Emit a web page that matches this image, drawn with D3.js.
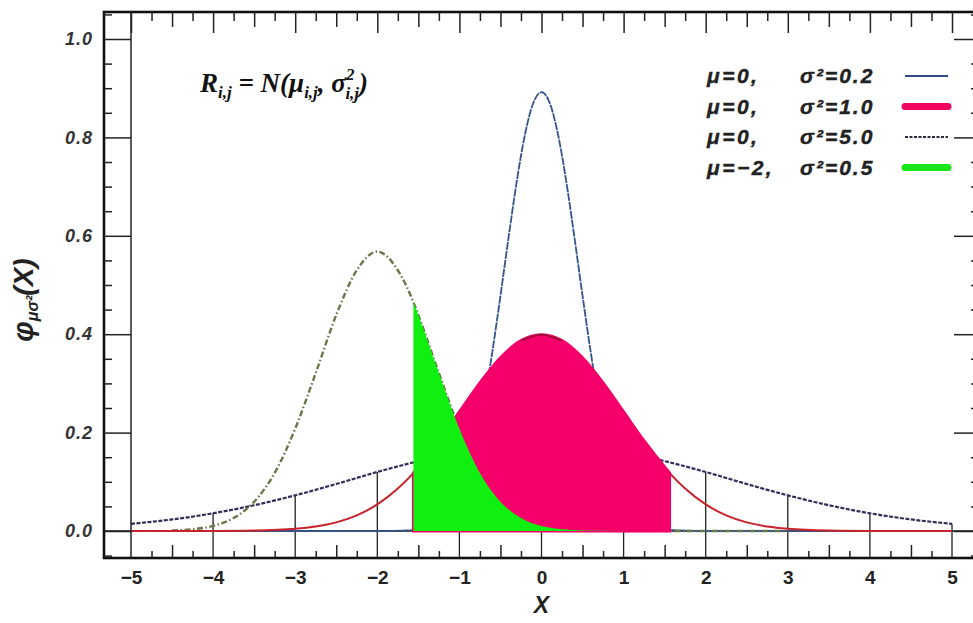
<!DOCTYPE html>
<html><head><meta charset="utf-8">
<script src="https://cdn.jsdelivr.net/npm/d3@7/dist/d3.min.js"></script>
<style>body{margin:0;background:#fff}svg{display:block}</style>
</head><body>
<svg id="c" width="973" height="623"></svg>
<script>
// ---- data ----
const xTickValues = [-5,-4,-3,-2,-1,0,1,2,3,4,5];
const xTickLabels = ["\u22125","\u22124","\u22123","\u22122","\u22121","0","1","2","3","4","5"];
const yTickValues = [0,0.2,0.4,0.6,0.8,1.0];
const yTickLabels = ["0.0","0.2","0.4","0.6","0.8","1.0"];

// mu=0, sigma^2=0.2
const blueX = [-5,-4,-3,-2,-1.6,-1.4,-1.2,-1,-0.9,-0.8,-0.7,-0.6,-0.5,-0.4,-0.3,-0.2,-0.1,0,0.1,0.2,0.3,0.4,0.5,0.6,0.7,0.8,0.9,1,1.2,1.4,1.6,2,3,4,5];
const blueY = [0,0,0,0,0.0015,0.0066,0.024,0.073,0.118,0.180,0.262,0.363,0.478,0.598,0.712,0.807,0.870,0.892,0.870,0.807,0.712,0.598,0.478,0.363,0.262,0.180,0.118,0.073,0.024,0.0066,0.0015,0,0,0,0];
// mu=0, sigma^2=1.0
const redX = [-5,-4.5,-4,-3.5,-3,-2.75,-2.5,-2.25,-2,-1.75,-1.56,-1.5,-1.25,-1,-0.75,-0.5,-0.25,0,0.25,0.5,0.75,1,1.25,1.5,1.56,1.75,2,2.25,2.5,2.75,3,3.5,4,4.5,5];
const redY = [0,0,0.0001,0.0009,0.0044,0.0091,0.0175,0.0317,0.054,0.0863,0.118,0.130,0.183,0.242,0.301,0.352,0.387,0.399,0.387,0.352,0.301,0.242,0.183,0.130,0.118,0.0863,0.054,0.0317,0.0175,0.0091,0.0044,0.0009,0.0001,0,0];
// mu=0, sigma^2=5.0
const purpleX = [-5,-4.5,-4,-3.5,-3,-2.5,-2,-1.5,-1,-0.5,0,0.5,1,1.5,2,2.5,3,3.5,4,4.5,5];
const purpleY = [0.0146,0.0235,0.0360,0.0524,0.0725,0.0955,0.120,0.142,0.161,0.174,0.178,0.174,0.161,0.142,0.120,0.0955,0.0725,0.0524,0.0360,0.0235,0.0146];
// mu=-2, sigma^2=0.5
const greenX = [-4.5,-4.25,-4,-3.75,-3.5,-3.25,-3,-2.75,-2.5,-2.25,-2,-1.75,-1.56,-1.5,-1.25,-1,-0.75,-0.5,-0.25,0,0.5,1,2,3];
const greenY = [0.0011,0.0036,0.0103,0.0264,0.0595,0.118,0.208,0.321,0.439,0.530,0.568,0.530,0.465,0.439,0.321,0.208,0.118,0.0595,0.0264,0.0103,0.0011,0.0001,0,0];

const pinkRange = [-1.56, 1.56];
const greenFillFrom = -1.56;

const legendMu = ["\u03bc=0,","\u03bc=0,","\u03bc=0,","\u03bc=\u22122,"];
const legendSigma = ["\u03c3\u00b2=0.2","\u03c3\u00b2=1.0","\u03c3\u00b2=5.0","\u03c3\u00b2=0.5"];

// ---- drawing ----
const svg = d3.select("#c");
const x = d3.scaleLinear().domain([-5,5]).range([131,952]);
const y = d3.scaleLinear().domain([0,1]).range([531,39]);
const F = {l:104, t:12, r:979, b:558};
const SANS = "'Liberation Sans',Arial,sans-serif";

const pts = (xs, ys) => xs.map((v,i)=>[v, ys[i]]);
const line = d3.line().x(d=>x(d[0])).y(d=>y(d[1])).curve(d3.curveMonotoneX);
const area = d3.area().x(d=>x(d[0])).y0(y(0)).y1(d=>y(d[1])).curve(d3.curveMonotoneX);

const blue = pts(blueX, blueY), red = pts(redX, redY), purple = pts(purpleX, purpleY), green = pts(greenX, greenY);

// baseline y=0
svg.append("line").attr("x1",F.l).attr("x2",F.r).attr("y1",y(0)).attr("y2",y(0))
  .attr("stroke","#111").attr("stroke-width",1.6);

// drop lines at integer x from the sigma^2=5 curve to bottom frame
xTickValues.filter(v=>v>-5).forEach(v=>{
  const i = purpleX.indexOf(v);
  svg.append("line").attr("x1",x(v)).attr("x2",x(v)).attr("y1",y(purpleY[i])).attr("y2",F.b)
    .attr("stroke","#222").attr("stroke-width",1.3);
});

// curves
svg.append("path").attr("d",line(purple)).attr("fill","none").attr("stroke","#362c58")
  .attr("stroke-width",2.2).attr("stroke-dasharray","4,1.5");
svg.append("path").attr("d",line(blue)).attr("fill","none").attr("stroke","#33538c")
  .attr("stroke-width",1.8).attr("stroke-dasharray","8,1");
svg.append("path").attr("d",line(green)).attr("fill","none").attr("stroke","#67784a")
  .attr("stroke-width",2.4).attr("stroke-dasharray","6,2.5,1.5,2.5");
svg.append("path").attr("d",line(red)).attr("fill","none").attr("stroke","#c8222c").attr("stroke-width",2);

// pink fill
const pinkPts = red.filter(d=>d[0]>=pinkRange[0] && d[0]<=pinkRange[1]);
svg.append("path").attr("d",area(pinkPts)).attr("fill","#f5006a").attr("stroke","#f5006a").attr("stroke-width",3);
// dark edge near the pink peak
const peakPts = red.filter(d=>d[0]>=-0.25 && d[0]<=0.25);
svg.append("path").attr("d",line(peakPts)).attr("fill","none").attr("stroke","#8a1030").attr("stroke-width",1.5);

// green fill
const greenPts = green.filter(d=>d[0]>=greenFillFrom && d[0]<=1);
svg.append("path").attr("d",area(greenPts)).attr("fill","#10f010");

// frame
svg.append("rect").attr("x",F.l).attr("y",F.t).attr("width",F.r-F.l).attr("height",F.b-F.t)
  .attr("fill","none").attr("stroke","#111").attr("stroke-width",2.6);
svg.append("line").attr("x1",x(-5)).attr("x2",x(-5)).attr("y1",F.t).attr("y2",F.b)
  .attr("stroke","#222").attr("stroke-width",1.5);

const minorX = d3.range(-5,5.001,0.25).filter(v=>Math.abs(v-Math.round(v))>1e-6);
const halfX = minorX.filter(v=>Math.abs(v*2-Math.round(v*2))<1e-6);
const quarterX = minorX.filter(v=>!halfX.includes(v));
const minorY = d3.range(-0.05,1.051,0.05).filter(v=>Math.abs(v*5-Math.round(v*5))>1e-6);

function axisG(gen, tx, ty){
  const g = svg.append("g").attr("transform",`translate(${tx},${ty})`).call(gen);
  g.select(".domain").remove();
  g.selectAll("line").attr("stroke","#222").attr("stroke-width",1.5);
  return g;
}
// top ticks (pointing down)
axisG(d3.axisBottom(x).tickValues(xTickValues).tickSize(21).tickFormat(""),0,F.t);
axisG(d3.axisBottom(x).tickValues(halfX).tickSize(15).tickFormat(""),0,F.t);
axisG(d3.axisBottom(x).tickValues(quarterX).tickSize(9).tickFormat(""),0,F.t);
// bottom ticks (pointing up)
axisG(d3.axisTop(x).tickValues(halfX).tickSize(13).tickFormat(""),0,F.b);
axisG(d3.axisTop(x).tickValues(quarterX).tickSize(7).tickFormat(""),0,F.b);
// left ticks
axisG(d3.axisRight(y).tickValues(yTickValues).tickSize(x(-5)-F.l).tickFormat(""),F.l,0);
axisG(d3.axisRight(y).tickValues(minorY).tickSize(8).tickFormat(""),F.l,0);
// right ticks
axisG(d3.axisLeft(y).tickValues(yTickValues).tickSize(F.r-x(5)-2).tickFormat(""),F.r,0);
axisG(d3.axisLeft(y).tickValues(minorY).tickSize(8).tickFormat(""),F.r,0);

// tick labels
const xl = axisG(d3.axisBottom(x).tickValues(xTickValues).tickSize(0).tickPadding(13)
  .tickFormat((d,i)=>xTickLabels[i]),0,F.b);
xl.selectAll("text").attr("font-family",SANS).attr("font-weight","bold")
  .attr("font-size",19).attr("fill","#222");
const yl = axisG(d3.axisLeft(y).tickValues(yTickValues).tickSize(0).tickPadding(11)
  .tickFormat((d,i)=>yTickLabels[i]),F.l,0);
yl.selectAll("text").attr("font-family",SANS).attr("font-weight","bold")
  .attr("font-style","italic").attr("font-size",18).attr("letter-spacing",1).attr("fill","#333");

// axis titles
svg.append("text").attr("x",x(0)).attr("y",613).attr("text-anchor","middle")
  .attr("font-family",SANS).attr("font-weight","bold").attr("font-style","italic")
  .attr("font-size",23).attr("fill","#222").text("X");
const yt = svg.append("text").attr("transform","translate(33,300) rotate(-90)").attr("text-anchor","middle")
  .attr("font-family",SANS).attr("font-weight","bold").attr("font-style","italic")
  .attr("fill","#222");
yt.append("tspan").attr("font-size",29).text("\u03c6");
yt.append("tspan").attr("font-size",16).attr("dy",5).text("\u03bc\u03c3\u00b2");
yt.append("tspan").attr("font-size",28).attr("dy",-5).text("(X)");

// formula
const fm = svg.append("text").attr("x",200).attr("y",92)
  .attr("font-family","'Liberation Serif','Times New Roman',serif").attr("font-weight","bold")
  .attr("font-style","italic").attr("font-size",27).attr("fill","#111");
fm.append("tspan").text("R");
fm.append("tspan").attr("font-size",17).attr("dy",6).text("i,j");
fm.append("tspan").attr("dy",-6).text(" = N(\u03bc");
fm.append("tspan").attr("font-size",17).attr("dy",6).text("i,j");
fm.append("tspan").attr("dy",-6).text(", \u03c3");
fm.append("tspan").attr("font-size",17).attr("dy",-12).text("2");
fm.append("tspan").attr("font-size",17).attr("dx",-9).attr("dy",19).text("i,j");
fm.append("tspan").attr("dy",-7).text(")");

// legend
const legColors = ["#2e4a86","#f0065f","#2a2a3a","#19e619"];
const legWidths = [2.2,7,1.8,7];
const legDash = [null,null,"3,1.5",null];
const legY0 = 76, legDy = 30.5;
legendMu.forEach((m,i)=>{
  const yy = legY0 + i*legDy;
  const t = svg.append("g").attr("font-family",SANS)
    .attr("font-weight","bold").attr("font-style","italic").attr("font-size",21).attr("fill","#222")
    .attr("stroke","#222").attr("stroke-width",0.4);
  t.append("text").attr("x",707).attr("y",yy+7).attr("letter-spacing",2.5).text(m);
  t.append("text").attr("x",800).attr("y",yy+7).attr("letter-spacing",2).text(legendSigma[i]);
  svg.append("line").attr("x1",905).attr("x2",948).attr("y1",yy).attr("y2",yy)
    .attr("stroke",legColors[i]).attr("stroke-width",legWidths[i])
    .attr("stroke-linecap",legWidths[i]>3?"round":"butt")
    .attr("stroke-dasharray",legDash[i]);
});
</script>
</body></html>
